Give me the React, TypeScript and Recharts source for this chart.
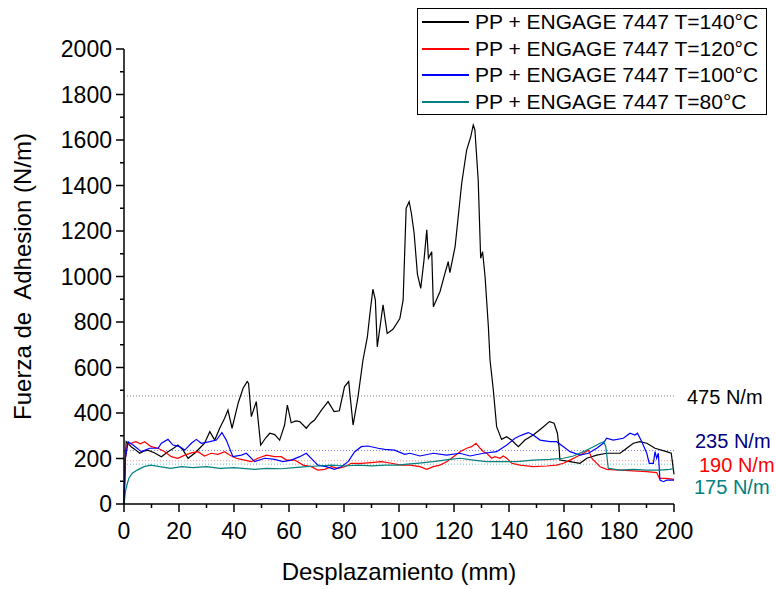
import { LineChart, Line, XAxis, YAxis, ReferenceLine, Legend } from "recharts";

// [desplazamiento mm, fuerza N/m]
const t140 = [
  [0, 0], [0.5, 200], [0.8, 274], [2.6, 252], [4.0, 240], [5.7, 223], [7.2, 232], [8.7, 237], [11, 225], [13.6, 208],
  [16.0, 230], [18, 245], [19.6, 259], [21.5, 237], [23.3, 201], [25.7, 223], [27.5, 245], [29.3, 267], [31.2, 318],
  [33.0, 281], [34.8, 333], [36.6, 377], [37.8, 413], [39.3, 333], [41.5, 443], [43.3, 509], [44.8, 538], [45.3, 530],
  [46.3, 384], [48.1, 450], [49.7, 259], [51.5, 290], [53.0, 311], [54.8, 305], [56.6, 281], [58.4, 347], [59.4, 435],
  [60.8, 357], [62.5, 365], [63.9, 362], [66.3, 333], [67.8, 355], [69.3, 369], [71.8, 413], [74.2, 450], [76.4, 406],
  [78.3, 410], [80.2, 516], [81.7, 538], [83.3, 347], [85.1, 472], [86.9, 633], [88.5, 735], [89.3, 823], [90.5, 944],
  [91.4, 897], [92.1, 691], [94.2, 875], [95.7, 750], [97.8, 768], [100.3, 815], [101.5, 897], [102.6, 1300],
  [103.7, 1329], [104.5, 1278], [105.5, 1190], [106.7, 1010], [107.9, 948], [109.1, 1073], [110.1, 1205], [110.7, 1080],
  [111.9, 1109], [112.5, 867], [114.9, 933], [116.7, 1014], [117.9, 1065], [118.5, 1017], [120.4, 1131], [122.8, 1410],
  [124.6, 1556], [126.1, 1615], [127.0, 1666], [127.6, 1644], [128.8, 1424], [129.7, 1080], [130.4, 1109], [131.3, 999],
  [132.5, 779], [133.1, 633], [134.3, 501], [135.5, 340], [137.3, 284], [139.1, 296], [140.9, 281], [143.4, 252],
  [145.8, 281], [148.8, 303], [151.9, 333], [154.7, 362], [156.4, 355], [157.6, 311], [158.2, 250], [158.5, 193],
  [162.2, 186], [165.8, 179], [168.3, 201], [171.9, 215], [175.5, 223], [180.4, 223], [182.8, 245], [185.2, 267],
  [187.6, 274], [190.1, 267], [193.1, 245], [197.3, 230], [199.0, 223], [200, 130],
];

const t120 = [
  [0, 0], [0.5, 200], [1.2, 260], [2.6, 267], [4.3, 274], [6, 265], [7.5, 274], [9.9, 252], [12.4, 245], [14.8, 230],
  [17.2, 208], [19.6, 201], [22.1, 215], [24.5, 225], [26.9, 230], [29.3, 211], [31.7, 223], [34.2, 218], [36.6, 230],
  [38.4, 215], [40.8, 201], [43.9, 193], [46.3, 186], [48.7, 201], [51.8, 215], [54.8, 208], [57.2, 208], [59.1, 193],
  [62.1, 193], [65.1, 171], [68.1, 164], [70.5, 149], [73.0, 152], [75.4, 164], [77.8, 157], [80.2, 164], [82.7, 179],
  [86.3, 179], [89.9, 182], [93.6, 186], [97.2, 179], [100.8, 171], [104.0, 171], [107.6, 164], [110.1, 152],
  [112.5, 164], [114.9, 171], [117.3, 186], [119.8, 208], [122.2, 230], [124.6, 245], [126.4, 252], [128.0, 267],
  [129.5, 245], [130.7, 230], [131.9, 223], [133.7, 201], [134.9, 208], [136.7, 201], [137.9, 211], [139.2, 201],
  [141.0, 179], [144.0, 171], [148.8, 164], [153.7, 167], [157.3, 171], [159.8, 179], [162.2, 193], [164.6, 208],
  [167.1, 223], [168.9, 237], [170.1, 201], [171.3, 186], [173.1, 164], [175.5, 152], [180.4, 149], [185.2, 146],
  [190.1, 142], [193.7, 138], [194.7, 113], [197.3, 113], [200, 108],
];

const t100 = [
  [0, 0], [0.5, 200], [1.5, 274], [3.3, 259], [6.3, 230], [9.3, 245], [12.4, 245], [13.6, 267], [16.0, 284], [17.8, 259],
  [20.2, 252], [22.1, 237], [24.5, 267], [26.3, 284], [28.1, 267], [31.2, 274], [33.6, 281], [35.6, 314], [37.2, 281],
  [39.6, 208], [42.7, 215], [44.5, 223], [47.5, 186], [51.2, 201], [54.8, 196], [57.8, 186], [60.8, 193], [63.9, 208],
  [66.3, 223], [68.7, 193], [70.5, 171], [73.5, 164], [76.6, 152], [79.0, 164], [81.5, 186], [83.9, 230], [86.3, 252],
  [88.7, 255], [92.4, 245], [94.8, 240], [98.4, 237], [102.1, 218], [104.0, 223], [107.6, 211], [112.5, 223],
  [117.3, 215], [122.2, 223], [125.8, 211], [130.7, 223], [135.5, 230], [139.2, 259], [142.2, 289], [144.6, 303],
  [147.0, 314], [148.8, 303], [151.3, 281], [154.9, 274], [157.3, 274], [159.8, 252], [162.2, 230], [165.8, 215],
  [168.9, 223], [171.9, 245], [174.3, 267], [175.5, 289], [177.9, 281], [181.6, 289], [184.0, 311], [185.8, 303],
  [186.7, 311], [188.3, 274], [190.1, 223], [191.0, 179], [192.5, 179], [193.1, 230], [193.7, 201], [194.3, 223],
  [194.9, 105], [196.1, 98], [197.3, 105], [200, 105],
];

const t80 = [
  [0, 0], [0.6, 60], [1.2, 90], [1.8, 113], [3.0, 135], [4.8, 149], [7.3, 164], [9.7, 171], [13, 164], [17, 157],
  [21, 164], [25, 160], [30, 164], [35, 157], [40, 160], [47.5, 152], [52, 157], [57, 155], [62, 160], [66.3, 164],
  [70.5, 167], [75.4, 171], [80, 167], [85.1, 171], [90, 168], [95, 171], [99.6, 171], [103, 175], [106.4, 179],
  [112.5, 186], [118.5, 196], [122.2, 201], [127.0, 193], [131.9, 186], [136.7, 186], [142.8, 186], [148.8, 193],
  [154.9, 196], [159.8, 201], [163.4, 211], [167.1, 230], [170.7, 252], [173.1, 267], [174.5, 274], [175.2, 252],
  [176.1, 157], [180.4, 149], [185.2, 152], [190.1, 149], [194.9, 149], [198.5, 152], [200, 157],
];

const seriesNames = [
  "PP + ENGAGE 7447 T=140°C",
  "PP + ENGAGE 7447 T=120°C",
  "PP + ENGAGE 7447 T=100°C",
  "PP + ENGAGE 7447 T=80°C",
];
const seriesColors = ["#000000", "#ff0000", "#0000ff", "#008080"];

const avgValues = [475, 235, 190, 175];
const avgLabels = ["475 N/m", "235 N/m", "190 N/m", "175 N/m"];
const avgLineColors = ["#808080", "#8080ff", "#ff9090", "#70c0c0"];
const avgTextColors = ["#000000", "#000080", "#ff0000", "#008080"];

const xTicks = [0, 10, 20, 30, 40, 50, 60, 70, 80, 90, 100, 110, 120, 130, 140, 150, 160, 170, 180, 190, 200];
const yTicks = [0, 100, 200, 300, 400, 500, 600, 700, 800, 900, 1000, 1100, 1200, 1300, 1400, 1500, 1600, 1700, 1800, 1900, 2000];

const FONT = "'Liberation Sans', Arial, sans-serif";

const toRows = (pts: number[][]) => pts.map(([x, y]) => ({ x, y }));
const allSeries = [t140, t120, t100, t80].map(toRows);

// label offsets next to the right end of each average line
const labelShift = [
  { dx: 13, dy: 1 },
  { dx: 21, dy: -10 },
  { dx: 25, dy: 4 },
  { dx: 20, dy: 23 },
];

const YTick = ({ x, y, payload }: any) => {
  const major = payload.value % 200 === 0;
  return (
    <g>
      <line x1={x} x2={x - (major ? 8 : 4)} y1={y} y2={y} stroke="#000" strokeWidth={1.5} />
      {major && (
        <text x={x - 12} y={y} textAnchor="end" dominantBaseline="central" fontSize={23} fontFamily={FONT} fill="#000">
          {payload.value}
        </text>
      )}
    </g>
  );
};

const XTick = ({ x, y, payload }: any) => {
  const major = payload.value % 20 === 0;
  return (
    <g>
      <line x1={x} x2={x} y1={y} y2={y + (major ? 8 : 4)} stroke="#000" strokeWidth={1.5} />
      {major && (
        <text x={x} y={y + 27} textAnchor="middle" dominantBaseline="central" fontSize={23} fontFamily={FONT} fill="#000">
          {payload.value}
        </text>
      )}
    </g>
  );
};

const AvgLabel = ({ viewBox, text, color, dx, dy }: any) => {
  const { x, y, width } = viewBox;
  return (
    <text x={x + width + dx} y={y + dy} dominantBaseline="central" fontSize={20} fontFamily={FONT} fill={color}>
      {text}
    </text>
  );
};

const YTitle = ({ viewBox }: any) => {
  const cx = 22;
  const cy = viewBox.y + viewBox.height / 2;
  return (
    <text
      x={cx}
      y={cy}
      transform={`rotate(-90, ${cx}, ${cy})`}
      textAnchor="middle"
      dominantBaseline="central"
      fontSize={24}
      fontFamily={FONT}
      fill="#000"
      style={{ whiteSpace: "pre" }}
    >
      {"Fuerza de  Adhesion (N/m)"}
    </text>
  );
};

const XTitle = ({ viewBox }: any) => {
  const cx = viewBox.x + viewBox.width / 2;
  return (
    <text x={cx} y={571} textAnchor="middle" dominantBaseline="central" fontSize={24} fontFamily={FONT} fill="#000">
      Desplazamiento (mm)
    </text>
  );
};

const BoxLegend = () => (
  <div
    style={{
      width: 350,
      height: 107,
      border: "1.5px solid #000",
      boxSizing: "border-box",
      background: "#fff",
      fontFamily: FONT,
      fontSize: 21,
      color: "#000",
    }}
  >
    {seriesNames.map((name, i) => (
      <div key={name} style={{ height: 26.5, display: "flex", alignItems: "center" }}>
        <div style={{ width: 47, height: 2, background: seriesColors[i], marginLeft: 4, marginRight: 6 }} />
        <span style={{ whiteSpace: "nowrap" }}>{name}</span>
      </div>
    ))}
  </div>
);

export default function App() {
  return (
    <div style={{ position: "absolute", left: 0, top: 0, width: 776, height: 589, background: "#fff" }}>
      <LineChart width={776} height={589} margin={{ top: 49, right: 102, left: 0, bottom: 0 }}>
        <XAxis
          type="number"
          dataKey="x"
          domain={[0, 200]}
          ticks={xTicks}
          interval={0}
          height={85}
          tickSize={0}
          tickMargin={0}
          tickLine={false}
          tick={<XTick />}
          axisLine={{ stroke: "#000", strokeWidth: 1.5 }}
          allowDuplicatedCategory={false}
          label={<XTitle />}
        />
        <YAxis
          type="number"
          dataKey="y"
          domain={[0, 2000]}
          ticks={yTicks}
          interval={0}
          width={124}
          tickSize={0}
          tickMargin={0}
          tickLine={false}
          tick={<YTick />}
          axisLine={{ stroke: "#000", strokeWidth: 1.5 }}
          label={<YTitle />}
        />
        {avgValues.map((v, i) => (
          <ReferenceLine
            key={v}
            y={v}
            stroke={avgLineColors[i]}
            strokeWidth={1}
            strokeDasharray="1 2"
            label={<AvgLabel text={avgLabels[i]} color={avgTextColors[i]} dx={labelShift[i].dx} dy={labelShift[i].dy} />}
          />
        ))}
        {allSeries.map((rows, i) => (
          <Line
            key={seriesNames[i]}
            data={rows}
            dataKey="y"
            name={seriesNames[i]}
            type="linear"
            stroke={seriesColors[i]}
            strokeWidth={1.2}
            dot={false}
            isAnimationActive={false}
          />
        ))}
        <Legend
          layout="vertical"
          align="center"
          verticalAlign="middle"
          content={<BoxLegend />}
          wrapperStyle={{ position: "absolute", left: 417, top: 8, width: 350, height: 107 }}
        />
      </LineChart>
    </div>
  );
}
